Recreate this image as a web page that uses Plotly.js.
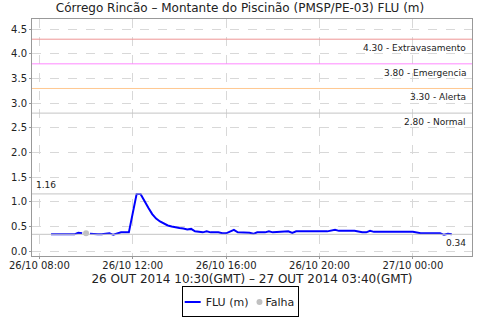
<!DOCTYPE html>
<html>
<head>
<meta charset="utf-8">
<script src="https://cdn.plot.ly/plotly-3.0.1.min.js"></script>
<style>
html,body{margin:0;padding:0;background:#fff;}
#chart{width:480px;height:320px;}
</style>
</head>
<body>
<div id="chart"></div>
<script>
// ---- Data ----
const times = [
 '2014-10-26 08:30','2014-10-26 08:40','2014-10-26 08:50','2014-10-26 09:00','2014-10-26 09:10',
 '2014-10-26 09:20','2014-10-26 09:30','2014-10-26 09:40','2014-10-26 09:50','2014-10-26 10:00',
 '2014-10-26 10:10','2014-10-26 10:20','2014-10-26 10:30','2014-10-26 10:40','2014-10-26 10:50',
 '2014-10-26 11:00','2014-10-26 11:10','2014-10-26 11:20','2014-10-26 11:30','2014-10-26 11:40',
 '2014-10-26 11:50','2014-10-26 12:00','2014-10-26 12:10','2014-10-26 12:20','2014-10-26 12:30',
 '2014-10-26 12:40','2014-10-26 12:50','2014-10-26 13:00','2014-10-26 13:10','2014-10-26 13:20',
 '2014-10-26 13:30','2014-10-26 13:40','2014-10-26 13:50','2014-10-26 14:00','2014-10-26 14:10',
 '2014-10-26 14:20','2014-10-26 14:30','2014-10-26 14:40','2014-10-26 14:50','2014-10-26 15:00',
 '2014-10-26 15:10','2014-10-26 15:20','2014-10-26 15:40','2014-10-26 15:50','2014-10-26 16:00',
 '2014-10-26 16:20','2014-10-26 16:30','2014-10-26 16:50','2014-10-26 17:00','2014-10-26 17:10',
 '2014-10-26 17:20','2014-10-26 17:40','2014-10-26 17:50','2014-10-26 18:00','2014-10-26 18:20',
 '2014-10-26 18:40','2014-10-26 18:50','2014-10-26 19:00','2014-10-26 19:20','2014-10-26 19:40',
 '2014-10-26 20:00','2014-10-26 20:20','2014-10-26 20:40','2014-10-26 20:50','2014-10-26 21:10',
 '2014-10-26 21:30','2014-10-26 21:50','2014-10-26 22:00','2014-10-26 22:10','2014-10-26 22:20',
 '2014-10-26 22:40','2014-10-26 23:00','2014-10-26 23:20','2014-10-26 23:40','2014-10-27 00:00',
 '2014-10-27 00:20','2014-10-27 00:40','2014-10-27 01:00','2014-10-27 01:10','2014-10-27 01:20',
 '2014-10-27 01:30','2014-10-27 01:40'
];
const fluValues = [
 0.34,0.34,0.34,0.34,0.34,
 0.34,0.34,0.37,0.36,null,
 0.35,0.34,0.34,0.34,0.35,
 0.36,0.33,0.36,0.38,0.38,
 0.38,0.77,1.16,1.16,1.01,
 0.88,0.75,0.66,0.60,0.56,
 0.52,0.50,0.48,0.47,0.46,
 0.44,0.45,0.40,0.39,0.38,
 0.40,0.38,0.38,0.36,0.36,
 0.43,0.38,0.38,0.37,0.35,
 0.38,0.38,0.40,0.38,0.39,
 0.40,0.37,0.40,0.40,0.40,
 0.40,0.40,0.43,0.41,0.41,
 0.41,0.38,0.38,0.41,0.39,
 0.39,0.39,0.39,0.39,0.39,
 0.36,0.36,0.36,0.36,0.33,
 0.35,0.34
];
const falhaTimes = ['2014-10-26 10:00'];
const falhaValues = [0.36];

const limitValues = [4.30, 3.80, 3.30, 2.80];
const limitNames = ['Extravasamento', 'Emergencia', 'Alerta', 'Normal'];
const limitColors = ['#ee9494', '#ff88ff', '#ffc890', '#c4c4c4'];
const maxValue = 1.16;
const lastValue = 0.34;

const xTickVals = ['2014-10-26 08:00','2014-10-26 12:00','2014-10-26 16:00','2014-10-26 20:00','2014-10-27 00:00'];
const xTickText = ['26/10 08:00','26/10 12:00','26/10 16:00','26/10 20:00','27/10 00:00'];
const yTickVals = [0.0,0.5,1.0,1.5,2.0,2.5,3.0,3.5,4.0,4.5];

const FONT = 'DejaVu Sans, sans-serif';

const shapes = [];
const annotations = [];
limitValues.forEach((v, i) => {
  shapes.push({type:'line', xref:'paper', x0:0, x1:1, yref:'y', y0:v, y1:v,
    line:{color:limitColors[i], width:1}});
  annotations.push({xref:'paper', x:0.99, xanchor:'right', yref:'y', y:v, yanchor:'top',
    yshift:-2, showarrow:false, text:v.toFixed(2) + ' - ' + limitNames[i],
    font:{family:FONT, size:9, color:'#222'}});
});
shapes.push({type:'line', xref:'paper', x0:0, x1:1, yref:'y', y0:maxValue, y1:maxValue,
  line:{color:'#c4c4c4', width:1}});
shapes.push({type:'line', xref:'paper', x0:0, x1:1, yref:'y', y0:lastValue, y1:lastValue,
  line:{color:'#c4c4c4', width:1}});
annotations.push({xref:'paper', x:0.005, xanchor:'left', yref:'y', y:maxValue, yanchor:'bottom',
  yshift:2, showarrow:false, text:maxValue.toFixed(2), font:{family:FONT, size:9, color:'#222'}});
annotations.push({xref:'paper', x:0.99, xanchor:'right', yref:'y', y:lastValue, yanchor:'top',
  yshift:-2, showarrow:false, text:lastValue.toFixed(2), font:{family:FONT, size:9, color:'#222'}});

const traces = [
  {x:times, y:fluValues, type:'scatter', mode:'lines', name:'FLU (m)',
   line:{color:'#0000ff', width:2}, connectgaps:false},
  {x:falhaTimes, y:falhaValues, type:'scatter', mode:'markers', name:'Falha',
   marker:{color:'#c0c0c0', size:6}}
];

const layout = {
  width:480, height:320,
  margin:{l:32, r:8, t:19, b:64},
  paper_bgcolor:'#fff', plot_bgcolor:'#fff',
  font:{family:FONT, size:10, color:'#222'},
  title:{text:'Córrego Rincão – Montante do Piscinão (PMSP/PE-03) FLU (m)',
    xref:'container', x:0.5, xanchor:'center', yref:'container', y:0.975, yanchor:'middle',
    font:{family:FONT, size:12, color:'#222'}},
  xaxis:{type:'date', range:['2014-10-26 07:41','2014-10-27 02:32'],
    tickvals:xTickVals, ticktext:xTickText, tickfont:{family:FONT, size:10, color:'#222'},
    showgrid:true, gridcolor:'#d8d8d8', griddash:'dash', gridwidth:1,
    showline:true, linecolor:'#999', mirror:true, ticks:'outside', ticklen:2, tickcolor:'#999',
    ticklabelstandoff:-2, zeroline:false,
    title:{text:'26 OUT 2014 10:30(GMT) – 27 OUT 2014 03:40(GMT)', standoff:8,
      font:{family:FONT, size:12, color:'#222'}}},
  yaxis:{range:[-0.1, 4.71], tickvals:yTickVals, tickformat:'.1f',
    tickfont:{family:FONT, size:10, color:'#222'},
    showgrid:true, gridcolor:'#d8d8d8', griddash:'dash', gridwidth:1,
    showline:true, linecolor:'#999', mirror:true, ticks:'outside', ticklen:2, tickcolor:'#999',
    zeroline:false},
  showlegend:true,
  legend:{orientation:'h', xref:'container', x:0.5, xanchor:'center', yref:'container', y:0.008, yanchor:'bottom',
    bordercolor:'#000', borderwidth:1, font:{family:FONT, size:11, color:'#222'},
    itemwidth:30, tracegroupgap:0},
  shapes:shapes, annotations:annotations
};

Plotly.newPlot('chart', traces, layout, {displayModeBar:false, staticPlot:true}).then(gd => {
  // compact the legend entries (shorter symbols) like the original Java chart legend
  try {
    const leg = gd.querySelector('.legend');
    if (!leg) return;
    const items = leg.querySelectorAll('.traces');
    let x = 3;
    items.forEach(t => {
      const m = /translate\(([-\d.]+)[ ,]+([-\d.]+)\)/.exec(t.getAttribute('transform') || '');
      const y = m ? parseFloat(m[2]) : 0;
      const line = t.querySelector('.legendlines path');
      const hasLine = !!(line && line.getAttribute('d'));
      if (hasLine) line.setAttribute('d', 'M0,0h16');
      t.querySelectorAll('.legendpoints path').forEach(p => p.setAttribute('transform', 'translate(5,0)'));
      const txt = t.querySelector('text.legendtext');
      const sym = hasLine ? 21 : 11;
      txt.setAttribute('x', sym);
      txt.querySelectorAll('tspan').forEach(s => { if (s.hasAttribute('x')) s.setAttribute('x', sym); });
      t.setAttribute('transform', 'translate(' + x + ',' + y + ')');
      x += sym + txt.getComputedTextLength() + 6;
    });
    const W = x - 6 + 4;
    const bg = leg.querySelector('rect.bg');
    if (bg) bg.setAttribute('width', W);
    const lm = /translate\(([-\d.]+)[ ,]+([-\d.]+)\)/.exec(leg.getAttribute('transform') || '');
    const ly = lm ? parseFloat(lm[2]) : 0;
    leg.setAttribute('transform', 'translate(' + (240 - W / 2) + ',' + ly + ')');
  } catch (e) {}
});
</script>
</body>
</html>
